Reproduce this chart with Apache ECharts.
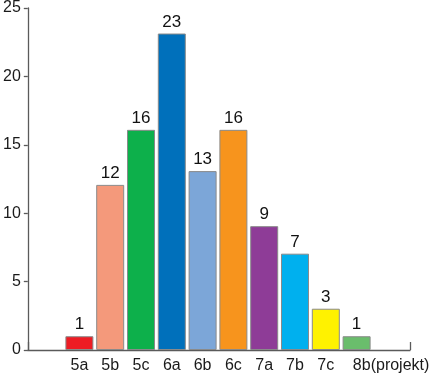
<!DOCTYPE html>
<html>
<head>
<meta charset="utf-8">
<script src="https://cdn.jsdelivr.net/npm/echarts@6/dist/echarts.min.js"></script>
<style>
html,body{margin:0;padding:0;background:#fff;}
#c{width:436px;height:375px;}
</style>
</head>
<body>
<div id="c"></div>
<script>
const categories = ['5a','5b','5c','6a','6b','6c','7a','7b','7c','8b(projekt)'];
const values = [1, 12, 16, 23, 13, 16, 9, 7, 3, 1];
const barColors = ['#ED1C24','#F4997B','#0DB04B','#0070BB','#7CA6D8','#F7941D','#8E3C97','#00B0EE','#FFF200','#6ABD6C'];
const yMin = 0, yMax = 25, yStep = 5;

const FONT = '"Liberation Sans", Arial, sans-serif';
const chart = echarts.init(document.getElementById('c'), null, {renderer: 'canvas'});

const catData = categories.map((c, i) => i === categories.length - 1
  ? {value: c, textStyle: {align: 'center', padding: [0, 0, 0, 69]}}
  : c);

chart.setOption({
  animation: false,
  backgroundColor: '#fff',
  grid: [
    {left: 64, right: 64, top: 6, bottom: 25, containLabel: false},
    {left: 26, right: 26, top: 6, bottom: 25, containLabel: false}
  ],
  xAxis: [
    {
      gridIndex: 0, type: 'category', data: catData,
      axisLine: {show: false}, axisTick: {show: false},
      axisLabel: {interval: 0, margin: 8, color: '#1a1a1a', fontSize: 16, fontFamily: FONT}
    },
    {
      gridIndex: 1, type: 'value', min: 0, max: 1, interval: 1,
      axisLine: {show: true, lineStyle: {color: '#5a5a5a', width: 1.3}},
      axisTick: {show: true, inside: true, length: 8, lineStyle: {color: '#5a5a5a', width: 1.3}},
      axisLabel: {show: false}, splitLine: {show: false}
    }
  ],
  yAxis: [
    {gridIndex: 0, type: 'value', min: yMin, max: yMax, interval: yStep, show: false},
    {
      gridIndex: 1, type: 'value', min: yMin, max: yMax, interval: yStep,
      axisLine: {show: true, lineStyle: {color: '#5a5a5a', width: 1.3}},
      axisTick: {show: true, length: 4, lineStyle: {color: '#5a5a5a', width: 1.3}},
      axisLabel: {margin: 7, color: '#1a1a1a', fontSize: 16, fontFamily: FONT},
      splitLine: {show: false}
    }
  ],
  series: [{
    type: 'bar', xAxisIndex: 0, yAxisIndex: 0,
    barWidth: 28,
    data: values.map((v, i) => ({value: v, itemStyle: {color: barColors[i]}})),
    itemStyle: {borderColor: '#8a8a8a', borderWidth: 1},
    label: {show: true, position: 'top', distance: 3, color: '#111', fontSize: 17, fontFamily: FONT}
  }]
});
</script>
</body>
</html>
